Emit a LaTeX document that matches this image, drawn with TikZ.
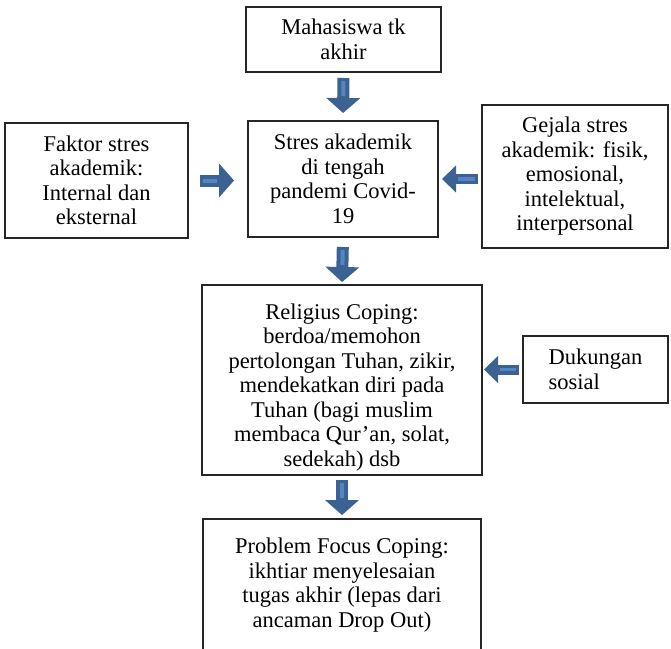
\documentclass[tikz,border=0pt]{standalone}
\usepackage{fontspec}
\setmainfont{Liberation Serif}
\usetikzlibrary{arrows.meta}

\definecolor{arrowdark}{RGB}{60,98,148}
\definecolor{arrowlight}{RGB}{84,132,196}

\begin{document}
\begin{tikzpicture}[x=1pt,y=-1pt,
  box/.style={draw=black!85,line width=1.2pt,inner sep=0pt,outer sep=0pt,align=center,
    font=\fontsize{22.5}{24.5}\selectfont},
  bigarrow/.style 2 args={draw=arrowdark,line width=12pt,
    -{Triangle[width=34pt,length=15pt,line width=0pt]},shorten <=#1,shorten >=#2,
    postaction={draw=arrowlight,line width=4pt,-,shorten <=#1+3pt,shorten >=#2+17pt}},
  smallarrow/.style 2 args={draw=arrowdark,line width=10pt,line join=round,
    -{Triangle[width=27pt,length=14pt,line width=0pt]},shorten <=#1,shorten >=#2,
    postaction={draw=arrowlight,line width=3.5pt,-,shorten <=#1+3pt,shorten >=#2+16pt}}]
\useasboundingbox (0,0) rectangle (671,648);

% boxes
\node[box,minimum width=195pt,minimum height=65pt] (mhs) at (343.5,39.5) {Mahasiswa tk\\akhir};
\node[box,minimum width=190pt,minimum height=116pt] (stres) at (343,179)
  {Stres akademik\\di tengah\\pandemi Covid-\\19};
\node[box,minimum width=183pt,minimum height=115pt] (faktor) at (96.5,180.5)
  {Faktor stres\\akademik:\\Internal dan\\eksternal};
\node[box,minimum width=186pt,minimum height=143pt] (gejala) at (575,176.5)
  {Gejala stres\\akademik: fisik,\\emosional,\\intelektual,\\interpersonal};
\node[box,minimum width=280pt,minimum height=190pt] (religi) at (342,380)
  {\rule{0pt}{30pt}Religius Coping:\\berdoa/memohon\\pertolongan Tuhan, zikir,\\mendekatkan diri pada\\Tuhan (bagi muslim\\membaca Qur’an, solat,\\sedekah) dsb};
\node[box,minimum width=145pt,minimum height=67pt,align=left] (dukung) at (595.5,369.5)
  {Dukungan\\sosial};
\node[box,minimum width=278pt,minimum height=132pt] (problem) at (342,585)
  {Problem Focus Coping:\\ikhtiar menyelesaian\\tugas akhir (lepas dari\\ancaman Drop Out)};

% block arrows
\draw[bigarrow={6pt}{8pt}] (mhs.south) -- (stres.north);
\draw[bigarrow={10pt}{3pt}] (stres.south) -- (religi.north);
\draw[bigarrow={5pt}{4pt}] (religi.south) -- (problem.north);
\draw[bigarrow={12pt}{14pt}] (faktor.east) -- (faktor.east -| stres.west);
\draw[smallarrow={4pt}{4pt}] (gejala.west |- stres.east) -- (stres.east);
\draw[smallarrow={4pt}{2pt}] (dukung.west) -- (dukung.west -| religi.east);
\end{tikzpicture}
\end{document}
